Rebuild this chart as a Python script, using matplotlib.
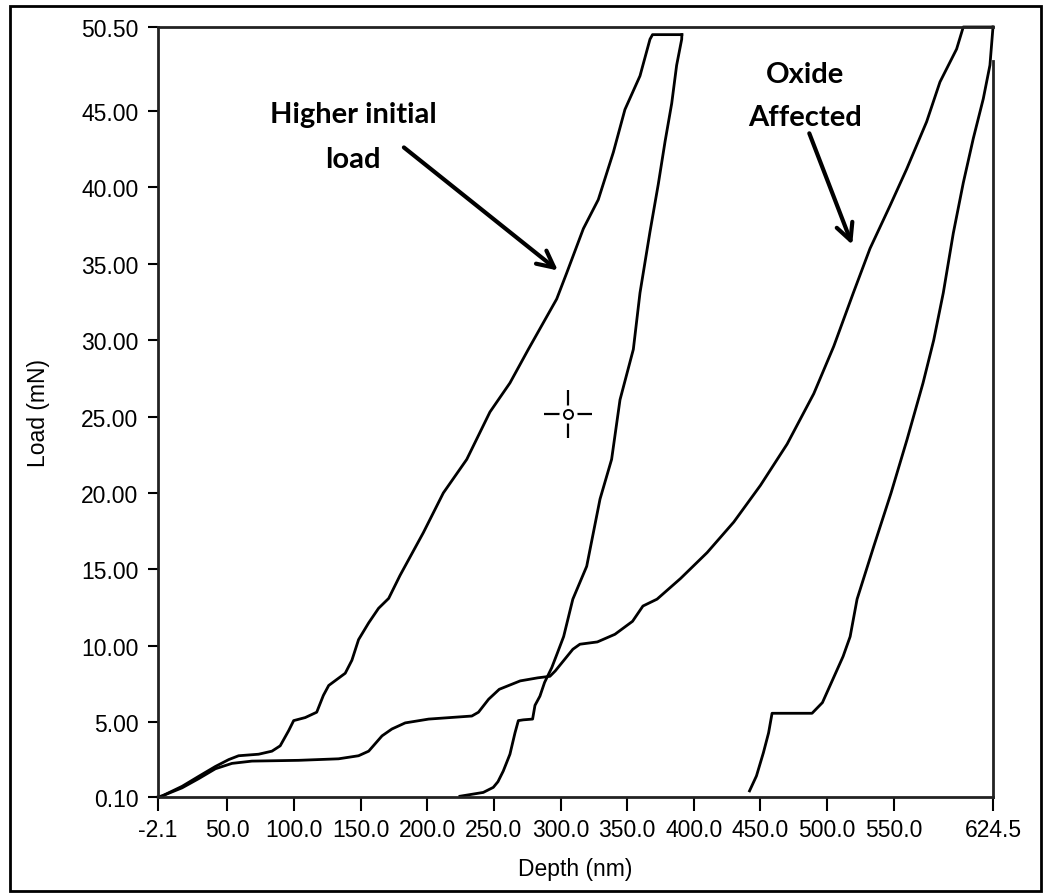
import matplotlib.pyplot as plt
from matplotlib.patches import Rectangle

# first indent: loading, hold, unloading
load_a_x = [-2.1, 1, 16, 28.4, 41, 51, 58.4, 73.4, 83.4, 89.6, 96, 99.7, 108.4, 117, 122, 126,
            138.4, 143.4, 148.4, 156, 163.4, 171, 179.5, 197, 212, 229.6, 247, 262, 275.8,
            297.1, 304.6, 317.1, 328.3, 339.6, 348.3, 359.6, 367.1, 369, 391]
load_a_y = [0.1, 0.17, 0.8, 1.45, 2.1, 2.55, 2.8, 2.9, 3.1, 3.45, 4.45, 5.1, 5.3, 5.65, 6.75, 7.4,
            8.2, 9.05, 10.4, 11.5, 12.45, 13.1, 14.6, 17.4, 20.0, 22.2, 25.3, 27.2, 29.4,
            32.7, 34.4, 37.3, 39.2, 42.3, 45.1, 47.3, 49.7, 50.0, 50.0]
unload_a_x = [391, 390.9, 387.1, 383.4, 378.4, 373.3, 367.1, 359.6, 354.6, 344.6, 338.3, 329.6,
              319.6, 309.2, 302.3, 297.5, 293.4, 288, 284.5, 280.8, 279, 272, 268.3, 265.8,
              262, 257, 253, 249.5, 242, 235, 224.5]
unload_a_y = [50.0, 49.7, 48.0, 45.5, 43.0, 40.2, 37.1, 33.1, 29.4, 26.1, 22.2, 19.6,
              15.2, 13.05, 10.6, 9.5, 8.57, 7.6, 6.7, 6.1, 5.2, 5.15, 5.1, 4.3,
              2.9, 1.8, 1.1, 0.73, 0.4, 0.3, 0.15]

# second indent (oxide affected)
load_b_x = [-2.1, 1, 16, 28.4, 41, 53.4, 68.4, 103.4, 133.4, 148.4, 156, 166, 173.4, 183.4, 201,
            233.4, 238.4, 246, 254, 269.7, 282.9, 292, 296, 309.2, 314.5, 327.6, 340.8, 354,
            361.8, 372.4, 390, 410, 430, 450, 470, 490, 505, 519.7, 532.2, 547.2, 559.7,
            574.7, 584.7, 597.2, 602.2, 624.5]
load_b_y = [0.1, 0.17, 0.7, 1.3, 1.95, 2.3, 2.45, 2.5, 2.6, 2.8, 3.1, 4.1, 4.55, 4.95, 5.2,
            5.4, 5.65, 6.5, 7.15, 7.7, 7.9, 8.0, 8.35, 9.77, 10.1, 10.25, 10.75, 11.6,
            12.6, 13.05, 14.4, 16.1, 18.1, 20.5, 23.2, 26.5, 29.6, 33.1, 36.0, 38.8, 41.2,
            44.3, 46.9, 49.06, 50.5, 50.5]
unload_b_x = [624.5, 622.2, 617.2, 609.7, 602.2, 599.7, 594.7, 587.2, 580, 572, 560, 548, 535,
              522.5, 517.3, 512, 504.3, 496.5, 488.7, 458.7, 456.1, 452.2, 447, 441.8]
unload_b_y = [50.5, 48.0, 45.8, 43.2, 40.3, 39.2, 37.0, 33.1, 30.0, 27.2, 23.5, 20.0, 16.5,
              13.05, 10.6, 9.3, 7.8, 6.28, 5.58, 5.58, 4.3, 3.0, 1.48, 0.5]

cursor = (305.4, 25.17)

x_ticks = [-2.1, 50, 100, 150, 200, 250, 300, 350, 400, 450, 500, 550, 624.5]
x_labels = ['-2.1', '50.0', '100.0', '150.0', '200.0', '250.0', '300.0', '350.0',
            '400.0', '450.0', '500.0', '550.0', '624.5']
y_ticks = [0.1, 5, 10, 15, 20, 25, 30, 35, 40, 45, 50.5]
y_labels = ['0.10', '5.00', '10.00', '15.00', '20.00', '25.00', '30.00', '35.00',
            '40.00', '45.00', '50.50']

tick_font = ['Liberation Sans', 'DejaVu Sans']
note_font = ['Lato', 'DejaVu Sans']

fig = plt.figure(figsize=(10.44, 8.95), dpi=100)
fig.patches.append(Rectangle((10 / 1044, 1 - 892 / 895), 1031 / 1044, 885 / 895,
                             transform=fig.transFigure, fill=False, lw=2, ec='black'))
ax = fig.add_axes([158 / 1044, 1 - 798 / 895, 835 / 1044, 770 / 895])

for xs, ys in [(load_a_x, load_a_y), (unload_a_x, unload_a_y),
               (load_b_x, load_b_y), (unload_b_x, unload_b_y)]:
    ax.plot(xs, ys, color='black', lw=2, clip_on=False)

# cursor crosshair
ax.plot(*cursor, marker='+', ms=34, mew=1.6, color='black')
ax.plot(*cursor, marker='o', ms=12, mfc='white', mec='white')
ax.plot(*cursor, marker='o', ms=6.5, mfc='white', mec='black', mew=1.4)

ax.set_xlim(-2.1, 624.5)
ax.set_ylim(0.1, 50.5)
ax.set_xticks(x_ticks)
ax.set_xticklabels(x_labels, family=tick_font, fontsize=16.5)
ax.set_yticks(y_ticks)
ax.set_yticklabels(y_labels, family=tick_font, fontsize=16.5)
ax.tick_params(axis='x', length=10, width=1.5, pad=5)
ax.tick_params(axis='y', length=7, width=1.5, pad=7)
for s in ax.spines.values():
    s.set_linewidth(2)
    s.set_color('#222222')
ax.spines['right'].set_bounds(0.1, 48.3)

ax.set_xlabel('Depth (nm)', family=tick_font, fontsize=16.5)
ax.set_ylabel('Load (mN)', family=tick_font, fontsize=16.5)
ax.xaxis.label.set_va('center')
ax.yaxis.label.set_va('center')
ax.xaxis.set_label_coords(0.5, -0.0935)
ax.yaxis.set_label_coords(-0.1437, 0.5)

ax.annotate('', xy=(299.6, 34.45), xytext=(180.8, 42.73),
            arrowprops=dict(arrowstyle='->', lw=3, mutation_scale=30, color='black'))
ax.text(144.2, 44.8, 'Higher initial', family=note_font, weight='bold', fontsize=21,
        ha='center', va='center')
ax.text(144.2, 41.86, 'load', family=note_font, weight='bold', fontsize=21,
        ha='center', va='center')

ax.annotate('', xy=(519.6, 36.08), xytext=(485.9, 43.71),
            arrowprops=dict(arrowstyle='->', lw=3, mutation_scale=30, color='black'))
ax.text(483.4, 47.42, 'Oxide', family=note_font, weight='bold', fontsize=21,
        ha='center', va='center')
ax.text(483.4, 44.61, 'Affected', family=note_font, weight='bold', fontsize=21,
        ha='center', va='center')

fig.savefig('out.png', dpi=100)
